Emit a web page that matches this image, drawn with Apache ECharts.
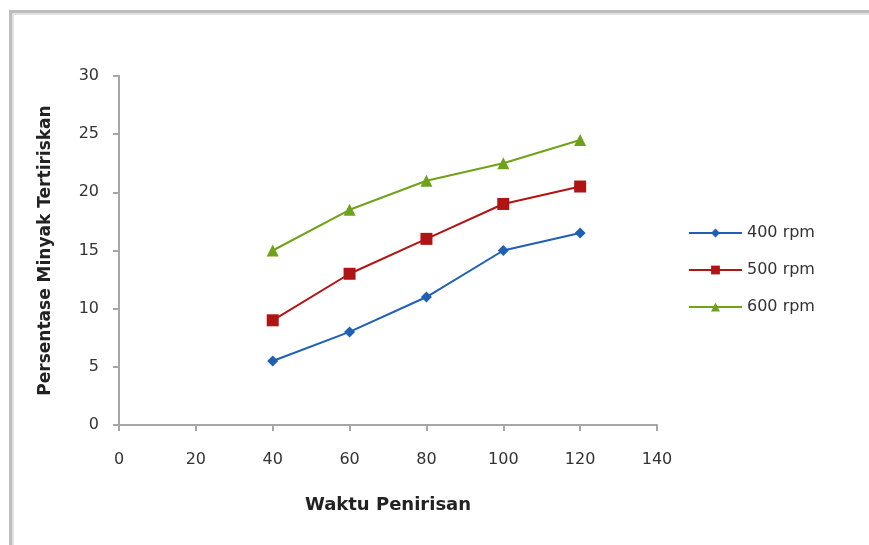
<!DOCTYPE html>
<html>
<head>
<meta charset="utf-8">
<script src="https://cdn.jsdelivr.net/npm/echarts@6/dist/echarts.min.js"></script>
<style>
  html, body { margin: 0; padding: 0; background: #fff; }
  #chart { width: 869px; height: 545px; }
</style>
</head>
<body>
<div id="chart"></div>
<script>
// Drying time (x) and percentage of oil drained for each spinner speed
const waktu = [40, 60, 80, 100, 120];
const rpm400 = [5.5, 8, 11, 15, 16.5];
const rpm500 = [9, 13, 16, 19, 20.5];
const rpm600 = [15, 18.5, 21, 22.5, 24.5];
const seriesNames = ['400 rpm', '500 rpm', '600 rpm'];

const pairs = ys => waktu.map((x, i) => [x, ys[i]]);

const chart = echarts.init(document.getElementById('chart'), null, { renderer: 'canvas' });

const FONT = 'DejaVu Sans, Verdana, sans-serif';
const axisLine = { show: true, lineStyle: { color: '#a6a6a6', width: 2 } };
const axisTick = { show: true, inside: false, length: 6, lineStyle: { color: '#a6a6a6', width: 2 } };
const labelFont = { color: '#333', fontSize: 16, fontFamily: FONT };

function lineSeries(name, data, color, symbol, size) {
  return {
    name, type: 'line', data,
    symbol, symbolSize: size,
    lineStyle: { color, width: 2 },
    itemStyle: { color },
    emphasis: { disabled: true },
    animation: false
  };
}

chart.setOption({
  animation: false,
  backgroundColor: '#fff',
  // chart-area frame (top and left edges)
  graphic: [
    { type: 'rect', shape: { x: 9, y: 10, width: 860, height: 3 }, style: { fill: '#bdbdbd' }, silent: true },
    { type: 'rect', shape: { x: 12, y: 13, width: 857, height: 2 }, style: { fill: '#e0e0e0' }, silent: true },
    { type: 'rect', shape: { x: 9, y: 10, width: 3, height: 535 }, style: { fill: '#bdbdbd' }, silent: true },
    { type: 'rect', shape: { x: 12, y: 13, width: 2, height: 532 }, style: { fill: '#e0e0e0' }, silent: true }
  ],
  grid: { left: 119, right: 212, top: 76, bottom: 120, containLabel: false },
  legend: {
    orient: 'vertical',
    left: 683, top: 220,
    itemGap: 21, itemWidth: 53, itemHeight: 11,
    textStyle: { color: '#333', fontSize: 16, fontFamily: FONT },
    data: seriesNames,
    selectedMode: false
  },
  xAxis: {
    type: 'value', min: 0, max: 140, interval: 20,
    name: 'Waktu Penirisan', nameLocation: 'middle', nameGap: 71,
    nameTextStyle: { color: '#222', fontSize: 18, fontWeight: 'bold', fontFamily: FONT },
    axisLine, axisTick,
    axisLabel: Object.assign({ margin: 27 }, labelFont),
    splitLine: { show: false }
  },
  yAxis: {
    type: 'value', min: 0, max: 30, interval: 5,
    name: 'Persentase Minyak Tertiriskan', nameLocation: 'middle', nameGap: 65,
    nameTextStyle: { color: '#222', fontSize: 17, fontWeight: 'bold', fontFamily: FONT },
    axisLine, axisTick,
    axisLabel: Object.assign({ margin: 20 }, labelFont),
    splitLine: { show: false }
  },
  series: [
    lineSeries(seriesNames[0], pairs(rpm400), '#1f5fb4', 'diamond', 11),
    lineSeries(seriesNames[1], pairs(rpm500), '#b01414', 'rect', 12),
    lineSeries(seriesNames[2], pairs(rpm600), '#6fa21a', 'triangle', 12)
  ]
});
</script>
</body>
</html>
